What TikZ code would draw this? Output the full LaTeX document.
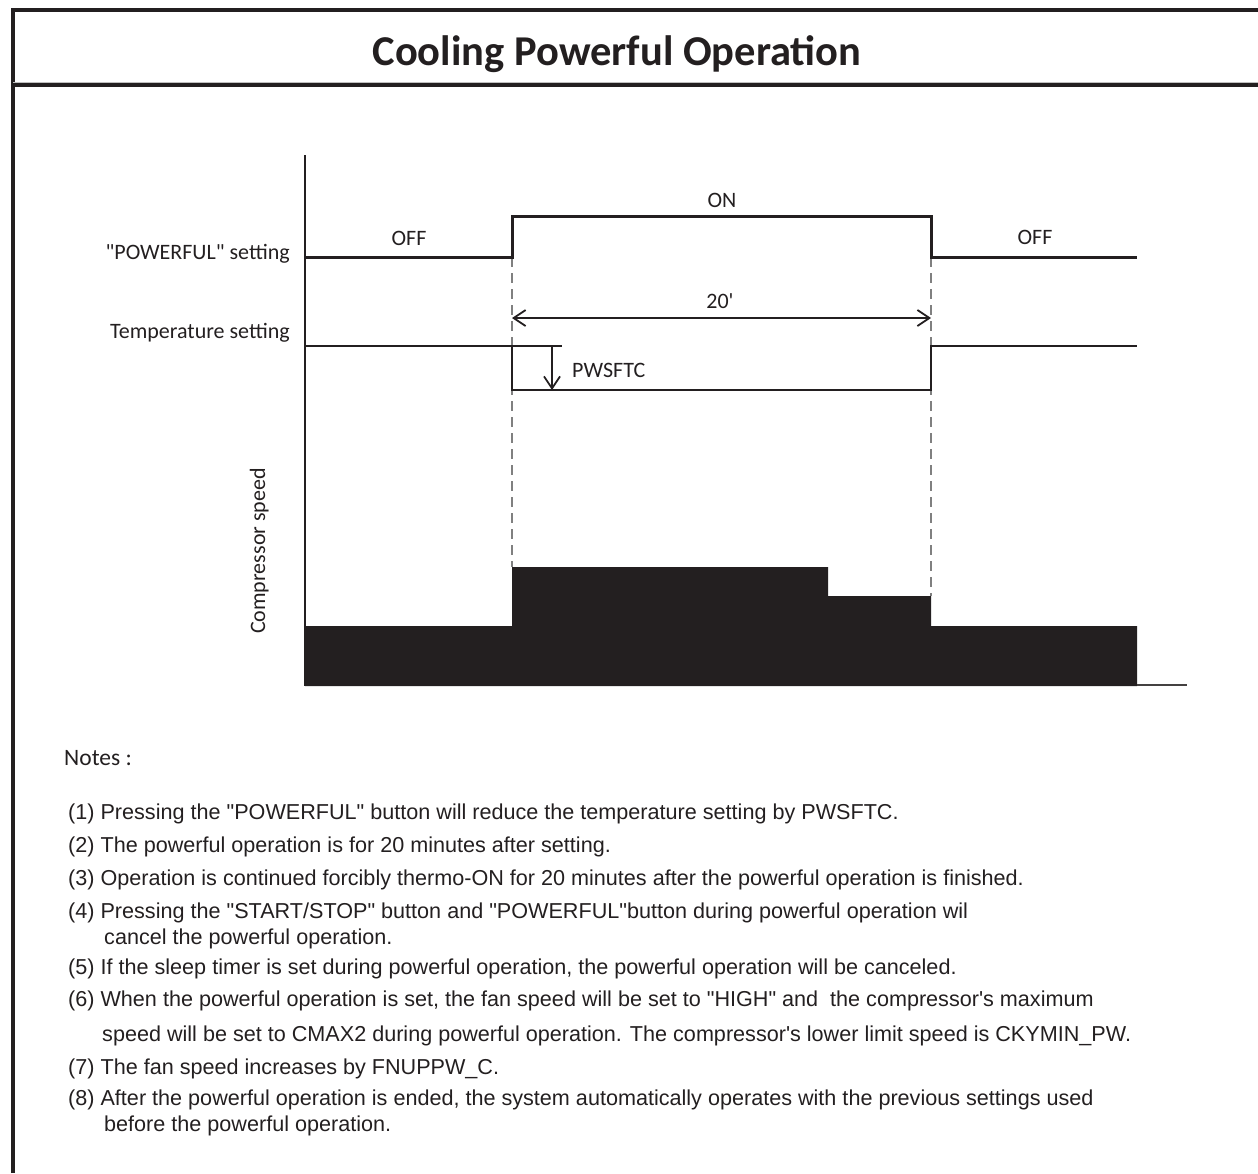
\documentclass[tikz,border=0pt]{standalone}
\usepackage{fontspec}
\setmainfont{Carlito}
\newfontfamily\notefont{Liberation Sans}
\usetikzlibrary{arrows.meta}
\definecolor{ink}{HTML}{231F20}
\tikzset{
  sig/.style={line width=3pt, draw=ink, line join=miter},
  sigthin/.style={line width=2.3pt, draw=ink, line join=miter},
  dashln/.style={dash pattern=on 10pt off 6pt, line width=1.3pt, draw=gray},
  lbl/.style={font=\fontsize{22}{26}\selectfont, inner sep=0pt, text=ink},
  note/.style={font=\notefont\fontsize{21.6}{26}\selectfont, anchor=base west, inner sep=0pt, text=ink},
  barb/.tip={Straight Barb[length=12pt,width=16pt,line width=1.8pt]},
}
\begin{document}
\begin{tikzpicture}[x=1pt,y=-1pt]
\useasboundingbox (0,0) rectangle (1258,1173);
% frame
\draw[line width=4pt, draw=ink] (13,1173) -- (13,10) -- (1260,10);
\draw[line width=1pt, draw=gray!50] (13,82) -- (1260,82);
\draw[line width=3.5pt, draw=ink] (13,85) -- (1260,85);
\node[anchor=base, inner sep=0pt, font=\bfseries\fontsize{42.5}{45}\selectfont, text=ink] (title) at (617,65) {Cooling Powerful Operation};

% axis
\coordinate (ytop) at (305,155);
\coordinate (ybot) at (305,686);
\draw[line width=2.5pt, draw=ink] (ytop) -- (ybot);

% compressor speed blocks
\fill[ink] (305,686) -- (305,626) -- (512,626) -- (512,567) -- (828,567) -- (828,596)
  -- (931,596) -- (931,626) -- (1137,626) -- (1137,686) -- cycle;
\coordinate (bl1) at (1137,685);
\coordinate (bl2) at (1187,685);
\draw[line width=2pt, draw=ink!85] (bl1) -- (bl2);

% dashed guides
\coordinate (d1t) at (512,257);
\coordinate (d1b) at (512,567);
\coordinate (d2t) at (931,257);
\coordinate (d2b) at (931,596);
\draw[dashln] (d1t) -- (d1b);
\draw[dashln] (d2t) -- (d2b);

% POWERFUL setting signal
\coordinate (p0) at (305,257);
\coordinate (p1) at (512,257);
\coordinate (p2) at (512,216);
\coordinate (p3) at (931,216);
\coordinate (p4) at (931,257);
\coordinate (p5) at (1137,257);
\draw[sig] (p0) -- (p1) -- (p2) -- (p3) -- (p4) -- (p5);

% temperature setting signal
\coordinate (t0) at (305,346);
\coordinate (t1) at (562,346);
\coordinate (t2) at (512,346);
\coordinate (t3) at (512,390);
\coordinate (t4) at (931,390);
\coordinate (t5) at (931,346);
\coordinate (t6) at (1137,346);
\draw[sigthin] (t0) -- (t1);
\draw[sigthin] (t2) -- (t3) -- (t4) -- (t5) -- (t6);

% 20' arrow
\coordinate (a1) at (512,318);
\coordinate (a2) at (931,318);
\draw[line width=1.8pt, draw=ink, barb-barb] (a1) -- (a2);

% PWSFTC arrow
\coordinate (w1) at (552,346);
\coordinate (w2) at (552,390);
\draw[line width=1.7pt, draw=ink, -barb] (w1) -- (w2);

% labels
\node[lbl, anchor=base] (off1) at (409,245) {OFF};
\node[lbl, anchor=base] (on) at (722,207) {ON};
\node[lbl, anchor=base] (off2) at (1035,244) {OFF};
\node[lbl, anchor=base] (twenty) at (720,308) {20\textquotesingle};
\node[lbl, anchor=base west] (pw) at (572,377) {PWSFTC};
\node[lbl, anchor=base east] (pwset) at (290,259) {\textquotedbl POWERFUL\textquotedbl{} setting};
\node[lbl, anchor=base east] (tset) at (290,338) {Temperature setting};
\node[lbl, anchor=base, rotate=90] (comp) at (265,551) {Compressor speed};

% notes
\node[lbl, anchor=base west, font=\fontsize{23.5}{28}\selectfont] (notes) at (64,765) {Notes :};
\node[note] (n1) at (68,819) {(1) Pressing the "POWERFUL" button will reduce the temperature setting by PWSFTC.};
\node[note] (n2) at (68,852) {(2) The powerful operation is for 20 minutes after setting.};
\node[note] (n3) at (68,885) {(3) Operation is continued forcibly thermo-ON for 20 minutes after the powerful operation is finished.};
\node[note] (n4) at (68,918) {(4) Pressing the "START/STOP" button and "POWERFUL"button during powerful operation wil};
\node[note] (n4b) at (104,944) {cancel the powerful operation.};
\node[note] (n5) at (68,974) {(5) If the sleep timer is set during powerful operation, the powerful operation will be canceled.};
\node[note] (n6) at (68,1006) {(6) When the powerful operation is set, the fan speed will be set to "HIGH" and \ the compressor's maximum};
\node[note] (n6b) at (102,1041) {speed will be set to CMAX2 during powerful operation. The compressor's lower limit speed is CKYMIN\_PW.};
\node[note] (n7) at (68,1074) {(7) The fan speed increases by FNUPPW\_C.};
\node[note] (n8) at (68,1105) {(8) After the powerful operation is ended, the system automatically operates with the previous settings used};
\node[note] (n8b) at (104,1131) {before the powerful operation.};
\end{tikzpicture}
\end{document}
